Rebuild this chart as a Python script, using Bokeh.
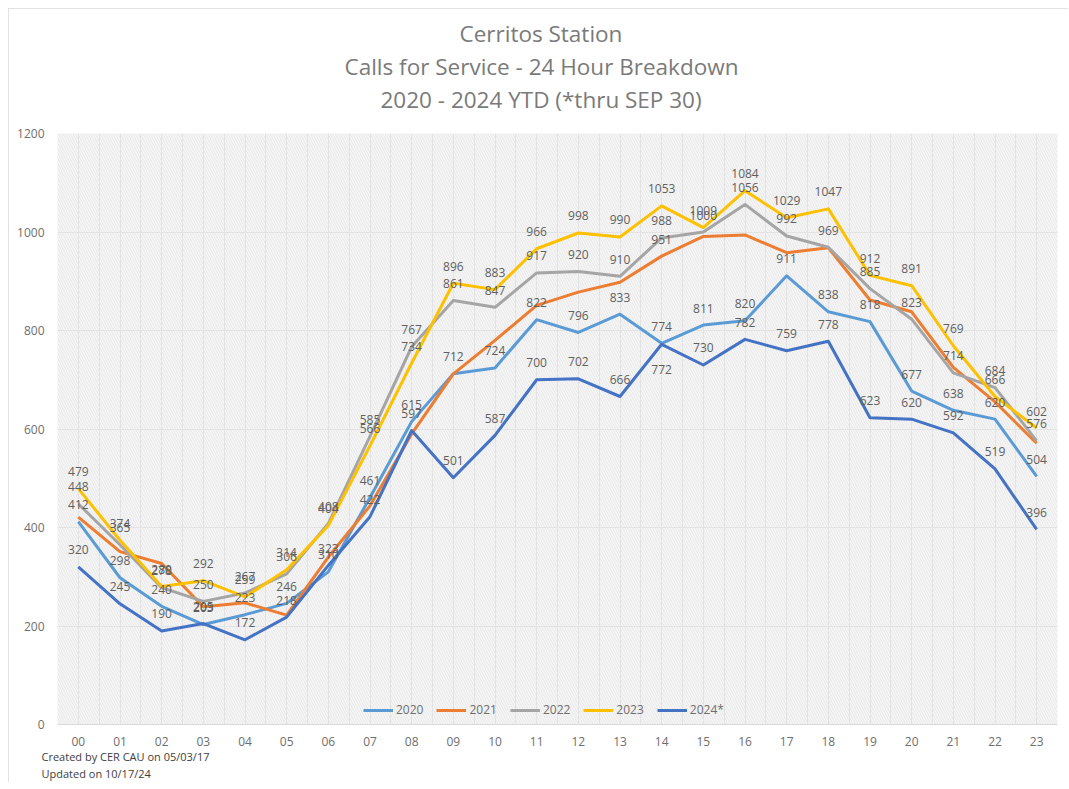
from bokeh.plotting import figure
from bokeh.models import (ColumnDataSource, Range1d, FixedTicker, Legend,
                          LegendItem, BoxAnnotation, Title)
from bokeh.core.properties import value
from bokeh.embed import file_html
from bokeh.resources import INLINE

hours = ["00", "01", "02", "03", "04", "05", "06", "07", "08", "09", "10", "11",
         "12", "13", "14", "15", "16", "17", "18", "19", "20", "21", "22", "23"]
y2020 = [412, 298, 240, 203, 223, 246, 310, 461, 615, 712, 724, 822,
         796, 833, 774, 811, 820, 911, 838, 818, 677, 638, 620, 504]
y2021 = [421, 351, 327, 239, 247, 222, 340, 444, 590, 712, 780, 851,
         878, 898, 951, 991, 994, 958, 968, 862, 838, 725, 655, 571]
y2022 = [448, 365, 278, 250, 267, 306, 408, 585, 767, 861, 847, 917,
         920, 910, 988, 1000, 1056, 992, 969, 885, 823, 714, 684, 576]
y2023 = [479, 374, 280, 292, 259, 314, 404, 566, 734, 896, 883, 966,
         998, 990, 1053, 1009, 1084, 1029, 1047, 912, 891, 769, 666, 602]
y2024 = [320, 245, 190, 205, 172, 218, 323, 422, 597, 501, 587, 700,
         702, 666, 772, 730, 782, 759, 778, 623, 620, 592, 519, 396]
series_names = ["2020", "2021", "2022", "2023", "2024*"]
colors = ["#5B9BD5", "#ED7D31", "#A5A5A5", "#FFC000", "#4472C4"]
labelled_2021_hours = ["14"]
label_below = {("2024*", "14")}

title_lines = ["Cerritos Station", "Calls for Service - 24 Hour Breakdown",
               "2020 - 2024 YTD (*thru SEP 30)"]
title_offsets = [402, 287, 323]
footnotes = ["Created by CER CAU on 05/03/17", "Updated on 10/17/24"]

FONT = "Open Sans"
xs = list(range(len(hours)))

p = figure(frame_width=1000, frame_height=591, output_backend="svg", toolbar_location=None,
           x_range=Range1d(-0.5, len(hours) - 0.5), y_range=Range1d(0, 1200),
           min_border_left=49, min_border_right=11, min_border_top=125,
           min_border_bottom=58, title=None)
p.margin = (8, 0, 0, 8)
p.outline_line_color = None
p.background_fill_color = "#f6f6f6"
p.border_fill_color = "white"
p.styles = {"outline": "1px solid #d9d9d9", "outline-offset": "-1px"}

bg = BoxAnnotation(fill_color="#f6f6f6", fill_alpha=1.0, line_color=None,
                   hatch_pattern="\\", hatch_color="#e8e8e8", hatch_alpha=1.0,
                   hatch_scale=5, hatch_weight=1, level="image")
p.add_layout(bg)

p.xaxis.ticker = FixedTicker(ticks=xs)
p.xaxis.major_label_overrides = {i: h for i, h in enumerate(hours)}
p.yaxis.ticker = FixedTicker(ticks=[0, 200, 400, 600, 800, 1000, 1200])
for ax in (p.xaxis[0], p.yaxis[0]):
    ax.major_tick_line_color = None
    ax.minor_tick_line_color = None
    ax.major_tick_out = 0
    ax.minor_tick_out = 0
    ax.major_label_text_font = FONT
    ax.major_label_text_font_size = "12px"
    ax.major_label_text_color = "#6e6e6e"
p.xaxis.axis_line_color = "#d9d9d9"
p.yaxis.axis_line_color = None
p.xaxis.major_label_standoff = 12
p.yaxis.major_label_standoff = 13

p.xgrid.ticker = FixedTicker(ticks=[i / 2 - 0.5 for i in range(2 * len(hours) + 1)])
p.xgrid.grid_line_color = "#e3e3e3"
p.ygrid.grid_line_color = "#e3e3e3"

all_series = [y2020, y2021, y2022, y2023, y2024]
renderers = []
for name, ys, c in zip(series_names, all_series, colors):
    r = p.line(xs, ys, line_color=c, line_width=3, line_join="round")
    renderers.append(r)

lx, ly, lt, loff = [], [], [], []
for name, ys in zip(series_names, all_series):
    for i, (h, v) in enumerate(zip(hours, ys)):
        if name == "2021" and h not in labelled_2021_hours:
            continue
        lx.append(i)
        ly.append(v)
        lt.append(str(v))
        loff.append(25 if (name, h) in label_below else -17)
lsrc = ColumnDataSource(dict(x=lx, y=ly, text=lt, yoff=loff))
p.text(x="x", y="y", text="text", y_offset="yoff", source=lsrc,
       text_font=value(FONT), text_font_size="12px", text_color="#5f5f5f",
       text_align="center", text_baseline="middle")

# ---- top panel: spacer + three title lines (stacked outward from the frame)
p.add_layout(Title(text=" ", standoff=1, text_font=FONT, text_font_size="11px"), "above")
for t, off in reversed(list(zip(title_lines, title_offsets))):
    p.add_layout(Title(text=t, align="left", vertical_align="middle", offset=off,
                       standoff=0, text_font=FONT, text_font_size="22.5px",
                       text_font_style="normal", text_color="#7a7a7a"), "above")

# ---- bottom panel: axis, then the two footnote lines
p.add_layout(Title(text=footnotes[0], align="left", vertical_align="middle", offset=-16,
                   standoff=-1, text_font=FONT, text_font_size="11px",
                   text_font_style="normal", text_color="#404040"), "below")
p.add_layout(Title(text=footnotes[1], align="left", vertical_align="middle", offset=-16,
                   standoff=0, text_font=FONT, text_font_size="11px",
                   text_font_style="normal", text_color="#404040"), "below")

# legend kept inside the plot frame, bottom centre (empty area)
legend = Legend(items=[LegendItem(label=n, renderers=[r]) for n, r in zip(series_names, renderers)],
                orientation="horizontal", location=(306, 6), margin=0, padding=0,
                spacing=13, glyph_width=30, glyph_height=14, label_height=14,
                label_standoff=3, label_text_font=FONT, label_text_font_size="12px",
                label_text_color="#6e6e6e", border_line_color=None,
                background_fill_alpha=0)
p.add_layout(legend, "center")

open("out.html", "w").write(file_html(p, INLINE))
